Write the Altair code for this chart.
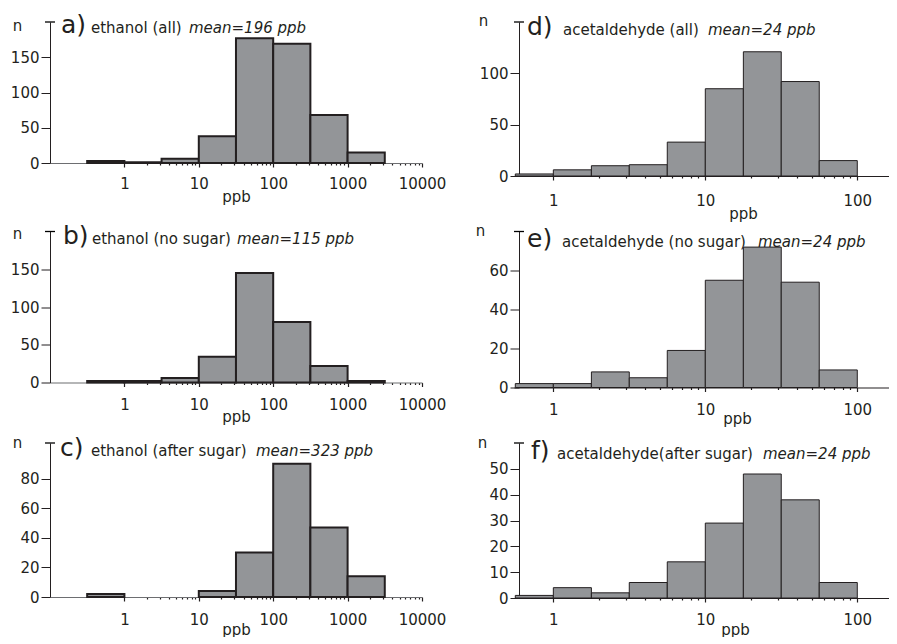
import altair as alt
import pandas as pd

FONT = "DejaVu Sans"
FILL = "#939598"
EDGE = "#231f20"

# bin edges (ppb)
eth_lo = [0.316, 1, 3.16, 10, 31.6, 100, 316, 1000]
eth_hi = [1, 3.16, 10, 31.6, 100, 316, 1000, 3160]
ace_lo = [0.562, 1, 1.78, 3.16, 5.62, 10, 17.8, 31.6, 56.2]
ace_hi = [1, 1.78, 3.16, 5.62, 10, 17.8, 31.6, 56.2, 100]

# counts per bin
n_a = [3, 1, 6, 38, 177, 169, 68, 15]
n_b = [2, 2, 6, 34, 145, 80, 22, 2]
n_c = [2, 0, 0, 4, 30, 90, 47, 14]
n_d = [2, 6, 10, 11, 33, 85, 121, 92, 15]
n_e = [2, 2, 8, 5, 19, 55, 72, 54, 9]
n_f = [1, 4, 2, 6, 14, 29, 48, 38, 6]

letters = ["a)", "b)", "c)", "d)", "e)", "f)"]
names = ["ethanol (all)", "ethanol (no sugar)", "ethanol (after sugar)",
         "acetaldehyde (all)", "acetaldehyde (no sugar)", "acetaldehyde(after sugar)"]
means = ["mean=196 ppb", "mean=115 ppb", "mean=323 ppb",
         "mean=24 ppb", "mean=24 ppb", "mean=24 ppb"]
y_ticks = [[0, 50, 100, 150], [0, 50, 100, 150], [0, 20, 40, 60, 80],
           [0, 50, 100], [0, 20, 40, 60], [0, 10, 20, 30, 40, 50]]
y_top = [200, 200, 104, 150, 80, 60]

eth_major = [1, 10, 100, 1000, 10000]
ace_major = [1, 10, 100]
eth_minor = [m * d for d in [1, 10, 100, 1000] for m in range(2, 10)]
ace_minor = [m * d for d in [1, 10] for m in range(2, 10)]


def panel(i, lo, hi, counts, kind, height, letter_x, name_x, mean_x, title_y,
          n_x, n_y, xt_x, xt_y, label_pad):
    df = pd.DataFrame({"lo": lo, "hi": hi, "n": counts, "zero": [0] * len(lo)})
    if kind == "eth":
        domain = [0.1, 10000]
        major, minor = eth_major, eth_minor
        width = 372
        sw = 2.0
        xdom_color = "#6d6e71"
        yoff = 0
    else:
        domain = [0.551, 161.7]
        major, minor = ace_major, ace_minor
        width = 375
        sw = 1.0
        xdom_color = EDGE
        yoff = -5
    ytop = y_top[i]
    test = f"indexof({major}, datum.value) >= 0"
    xaxis = alt.Axis(
        values=major + minor,
        format="~g",
        labelExpr=f"{test} ? datum.label : ''",
        tickSize={"condition": {"test": test, "value": 4}, "value": 2},
        tickColor=EDGE,
        tickWidth=1.2,
        domainColor=xdom_color,
        domainWidth=1.2,
        labelPadding=label_pad,
        labelFlush=False,
        labelOverlap=False,
        title="ppb",
        titleX=xt_x,
        titleY=xt_y,
        titleAlign="center",
        titleBaseline="alphabetic",
    )
    yaxis = alt.Axis(
        values=y_ticks[i],
        tickSize=9,
        tickColor=EDGE,
        domainColor=EDGE,
        labelPadding=2,
        labelOverlap=False,
        labelFlush=False,
        offset=yoff,
        title="n",
        titleAngle=0,
        titleX=n_x,
        titleY=n_y,
        titleAlign="center",
        titleBaseline="alphabetic",
    )
    yscale = alt.Scale(domain=[0, ytop], nice=False)
    bars = alt.Chart(df).transform_filter("datum.n > 0").mark_rect(
        fill=FILL, stroke=EDGE, strokeWidth=sw
    ).encode(
        x=alt.X("lo:Q", scale=alt.Scale(type="log", domain=domain, nice=False, zero=False), axis=xaxis),
        x2="hi:Q",
        y=alt.Y("n:Q", scale=yscale, axis=yaxis),
        y2="zero:Q",
    )
    # "T" cap at the top of the y axis (same field / axis so the axes merge cleanly)
    ax_x = -yoff
    cap = alt.Chart(pd.DataFrame({"n": [ytop]})).mark_rule(color="black", strokeWidth=1.3).encode(
        y=alt.Y("n:Q", scale=yscale, axis=yaxis), x=alt.value(ax_x - 5), x2=alt.value(ax_x + 5))
    tdf = pd.DataFrame({"letter": [letters[i]], "name": [names[i]], "mean": [means[i]]})
    t1 = alt.Chart(tdf).mark_text(align="left", baseline="alphabetic", font=FONT,
                                  fontSize=25, color="#231f20").encode(
        text="letter:N", x=alt.value(letter_x), y=alt.value(title_y))
    t2 = alt.Chart(tdf).mark_text(align="left", baseline="alphabetic", font=FONT,
                                  fontSize=15, color="#231f20").encode(
        text="name:N", x=alt.value(name_x), y=alt.value(title_y))
    t3 = alt.Chart(tdf).mark_text(align="left", baseline="alphabetic", font=FONT,
                                  fontSize=15, fontStyle="italic", color="#231f20").encode(
        text="mean:N", x=alt.value(mean_x), y=alt.value(title_y))
    return alt.layer(bars, cap, t1, t2, t3).properties(width=width, height=height)


pa = panel(0, eth_lo, eth_hi, n_a, "eth", 141, 11, 41, 139, 11, -33, 8, 186, 38, 9)
pb = panel(1, eth_lo, eth_hi, n_b, "eth", 151, 13, 42, 187, 12, -33, 7, 186, 39, 11)
pc = panel(2, eth_lo, eth_hi, n_c, "eth", 154, 10, 41, 206, 13, -33, 4, 186, 37, 11)
pd_ = panel(3, ace_lo, ace_hi, n_d, "ace", 154, 13, 49, 194, 13, -36, 3, 229, 42, 13)
pe = panel(4, ace_lo, ace_hi, n_e, "ace", 156, 13, 48, 244, 15, -39, 4, 223, 36, 11)
pf = panel(5, ace_lo, ace_hi, n_f, "ace", 155, 17, 43, 249, 16, -37, 4, 221, 36, 10)

chart = alt.concat(
    pa, pd_, pb, pe, pc, pf,
    columns=2,
    spacing={"row": 55.5, "column": 92},
    bounds="flush",
).properties(
    padding={"left": 2, "top": 5, "right": 0, "bottom": 0}
).configure_view(stroke=None).configure_axis(
    labelFont=FONT, titleFont=FONT, labelFontSize=15, titleFontSize=15,
    titleFontWeight="normal", grid=False, labelColor="#231f20", titleColor="#231f20",
)

chart.save("out.html", embed_options={"renderer": "svg", "actions": False})
